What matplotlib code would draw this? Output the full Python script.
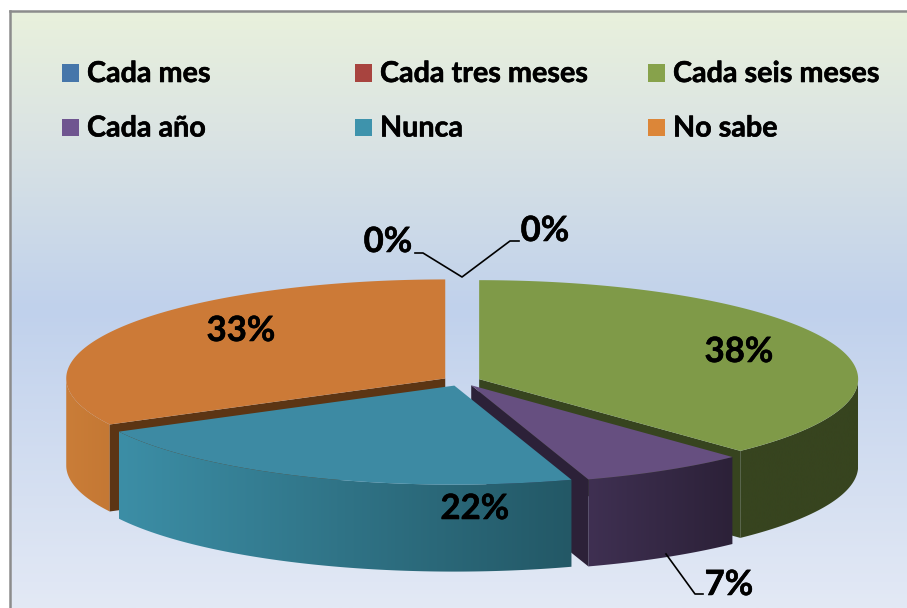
import numpy as np
import matplotlib
matplotlib.use('Agg')
import matplotlib.pyplot as plt
import matplotlib.patheffects as pe
from matplotlib.colors import LinearSegmentedColormap
from matplotlib.patches import Polygon, Rectangle

# Dados
categorias = ['Cada mes', 'Cada tres meses', 'Cada seis meses', 'Cada año', 'Nunca', 'No sabe']
valores = [0, 0, 37.9, 7.1, 22.3, 32.7]
cores_legenda = ['#4676aa', '#a8443f', '#87a24b', '#6f5590', '#3e93ac', '#dc8638']

# Cores do topo, do corte e da parede de cada fatia
cores_topo = {2: '#7f9a48', 3: '#664f80', 4: '#3d8aa3', 5: '#cc7a37'}
cores_corte = {2: '#37441f', 3: '#2c2138', 5: '#5c3514'}
cores_parede = {2: ['#37441f', '#37441f'], 3: ['#3f3052', '#2c2138'],
                4: ['#3c8ea6', '#235866'], 5: ['#ca7d38', '#c47834']}
ordem = [2, 5, 3, 4]

# Geometria da pizza em pixels
cx, cy = 461.5, 381
a, b = 379, 99
explode = 19
altura = 87

fig = plt.figure(figsize=(9.07, 6.08), dpi=100)
ax = fig.add_axes([0, 0, 1, 1])
ax.axis('off')

# Fundo em degrade
fundo = LinearSegmentedColormap.from_list('fundo', [(0, '#e9f1dc'), (0.2, '#dbe4e3'),
                                                    (0.5, '#c0d1ec'), (1, '#e3e9f5')])
ax.imshow(np.linspace(0, 1, 256).reshape(-1, 1), cmap=fundo, extent=(10, 907, 608, 11),
          aspect='auto', zorder=0)
ax.plot([10, 10], [608, 11], color='#8c8c8c', lw=1.8, zorder=1)
ax.plot([10, 907], [11, 11], color='#8c8c8c', lw=1.8, zorder=1)


def ponto(ang, x0, y0):
    return x0 + a * np.sin(ang), y0 - b * np.cos(ang)


limites = np.radians(np.cumsum([0] + valores) * 3.6)
z = 2
for i in ordem:
    ini, fim = limites[i], limites[i + 1]
    meio = (ini + fim) / 2
    x0 = cx + explode * np.sin(meio)
    y0 = cy - explode * b / a * np.cos(meio)

    # parede externa (so a metade da frente aparece)
    t = np.linspace(max(ini, np.pi / 2), min(fim, 3 * np.pi / 2), 200)
    xs, ys = ponto(t, x0, y0)
    pts = np.r_[np.c_[xs, ys], np.c_[xs, ys + altura][::-1]]
    cmap = LinearSegmentedColormap.from_list('p', cores_parede[i])
    im = ax.imshow(np.linspace(0, 1, 256).reshape(1, -1), cmap=cmap, aspect='auto', zorder=z,
                   extent=(xs.min(), xs.max(), y0 + 200, y0 - 200))
    im.set_clip_path(Polygon(pts, transform=ax.transData))

    # face do corte (a do azul fica escondida)
    if i in cores_corte:
        xc, yc = ponto(ini if i == 5 else fim, x0, y0)
        ax.add_patch(Polygon([(x0, y0), (xc, yc), (xc, yc + altura), (x0, y0 + altura)],
                             fc=cores_corte[i], ec='none', zorder=z))

    # topo
    t = np.linspace(ini, fim, 300)
    xs, ys = ponto(t, x0, y0)
    ax.add_patch(Polygon(np.r_[[(x0, y0)], np.c_[xs, ys]], fc=cores_topo[i], ec='none', zorder=z + 0.5))
    z += 1
ax.set_xlim(0, 907)
ax.set_ylim(608, 0)

contorno = [pe.withStroke(linewidth=0.4, foreground='black')]

# Legenda
leg_x = [62, 355, 648]
leg_y = [73, 127.5]
for k, nome in enumerate(categorias):
    x = leg_x[k % 3]
    y = leg_y[k // 3]
    ax.add_patch(Rectangle((x, y - 9), 17, 17.5, fc=cores_legenda[k], ec='none', zorder=10))
    ax.text(x + 25, y + 1, nome, fontsize=20.7, family='Lato', weight='bold', va='center', ha='left',
            color='black', zorder=10, path_effects=contorno)

# Rotulos
rot_x = [388, 545, 739, 729, 475, 241]
rot_y = [242, 231, 352, 585, 509, 331]
for k, v in enumerate(valores):
    ax.text(rot_x[k], rot_y[k], f'{v:.0f}%', fontsize=25, family='Lato', weight='bold', ha='center',
            va='center', color='black', zorder=10, path_effects=contorno)

# Linhas de chamada
ax.plot([415, 423, 462, 510, 519], [253, 253, 277, 241, 241], color='black', lw=1.2, zorder=9)
ax.plot([666, 695, 703], [554, 594, 594], color='black', lw=1.2, zorder=9)

plt.savefig('out.png', dpi=100)
